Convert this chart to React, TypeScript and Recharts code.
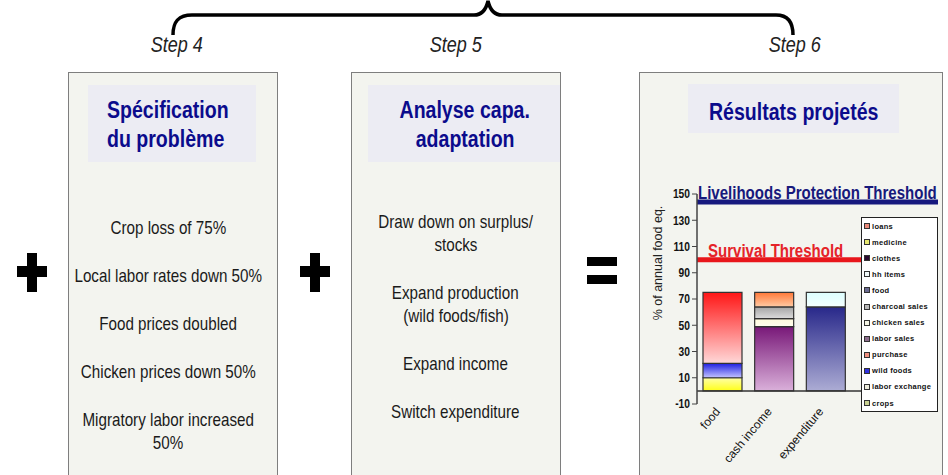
import { BarChart, Bar, XAxis, YAxis, ReferenceLine, Legend, Label } from "recharts";

const SANS = '"Liberation Sans", Arial, sans-serif';

// bar chart values (% of annual food needs)
const categories = ["food", "cash income", "expenditure"];
const crops = [10, 0, 0];
const laborExchange = [0, 0, 0];
const wildFoods = [11, 0, 0];
const purchase = [54, 0, 0];
const laborSales = [0, 49, 0];
const chickenSales = [0, 6, 0];
const charcoalSales = [0, 9, 0];
const foodSpend = [0, 0, 64];
const hhItems = [0, 0, 11];
const clothes = [0, 0, 0];
const medicine = [0, 0, 0];
const loans = [0, 11, 0];

const yTicks = [-10, 10, 30, 50, 70, 90, 110, 130, 150];
const livelihoodsThreshold = 144;
const survivalThreshold = 100;

// text of the diagram
const steps = ["Step 4", "Step 5", "Step 6"];
const problemTitle = ["Spécification", "du problème"];
const adaptationTitle = ["Analyse capa.", "adaptation"];
const resultsTitle = "Résultats projetés";
const problemItems = [
  ["Crop loss of 75%"],
  ["Local labor rates down 50%"],
  ["Food prices doubled"],
  ["Chicken prices down 50%"],
  ["Migratory labor increased", "50%"],
];
const adaptationItems = [
  ["Draw down on surplus/", "stocks"],
  ["Expand production", "(wild foods/fish)"],
  ["Expand income"],
  ["Switch expenditure"],
];

// stack order: bottom first (legend shows it reversed)
const series = [
  { key: "crops", name: "crops", values: crops, top: "#FFFFA8", bottom: "#FFFF18", swatch: "#C8D090" },
  { key: "laborExchange", name: "labor exchange", values: laborExchange, top: "#F0F0E0", bottom: "#FFFFFF", swatch: "#ECECDC" },
  { key: "wildFoods", name: "wild foods", values: wildFoods, top: "#1E1EE0", bottom: "#C4C4FF", swatch: "#3030E0" },
  { key: "purchase", name: "purchase", values: purchase, top: "#FF1616", bottom: "#FFD8D8", swatch: "#F09080" },
  { key: "laborSales", name: "labor sales", values: laborSales, top: "#781878", bottom: "#DAB0DA", swatch: "#8C6C8C" },
  { key: "chickenSales", name: "chicken sales", values: chickenSales, top: "#FFFBDC", bottom: "#FFFDEE", swatch: "#F4F4E4" },
  { key: "charcoalSales", name: "charcoal sales", values: charcoalSales, top: "#A4A4A4", bottom: "#DCDCDC", swatch: "#B8B8B8" },
  { key: "foodSpend", name: "food", values: foodSpend, top: "#28288A", bottom: "#ACACD4", swatch: "#6A6A90" },
  { key: "hhItems", name: "hh items", values: hhItems, top: "#DDFFFF", bottom: "#F4FFFF", swatch: "#F0F8F8" },
  { key: "clothes", name: "clothes", values: clothes, top: "#300038", bottom: "#601870", swatch: "#2A0A30" },
  { key: "medicine", name: "medicine", values: medicine, top: "#FFFF70", bottom: "#FFFFC0", swatch: "#E8E870" },
  { key: "loans", name: "loans", values: loans, top: "#FF7838", bottom: "#FFCBA4", swatch: "#E88878" },
];

const data = categories.map((cat, i) => {
  const row: any = { cat };
  series.forEach((s) => (row[s.key] = s.values[i]));
  return row;
});

// the source picture is squeezed horizontally, so text is narrowed
const Squeeze = ({ children, s, origin = "center" }: { children: React.ReactNode; s: number; origin?: string }) => (
  <span style={{ display: "inline-block", transform: `scaleX(${s})`, transformOrigin: origin, whiteSpace: "nowrap" }}>{children}</span>
);

const CategoryTick = ({ x, y, payload }: any) => {
  const tx = x - 2;
  const ty = y + 6;
  return (
    <text x={tx} y={ty} transform={`rotate(-50 ${tx} ${ty})`} textAnchor="end" fontSize={12} fontFamily={SANS} fill="#111">
      {payload.value}
    </text>
  );
};

const ValueTick = ({ x, y, payload }: any) => (
  <text transform={`translate(${x} ${y}) scale(0.82 1)`} textAnchor="end" dy="0.355em" fontSize={12.5} fontWeight="bold" fontFamily={SANS} fill="#111">
    {payload.value}
  </text>
);

const thresholdLabel = (text: string, color: string, dx: number) => (props: any) => {
  const vb = props.viewBox;
  return (
    <text transform={`translate(${vb.x + dx} ${vb.y - 3}) scale(0.835 1)`} fontSize={18} fontWeight="bold" fontFamily={SANS} fill={color}>
      {text}
    </text>
  );
};

const YTitle = (props: any) => {
  const vb = props.viewBox;
  const cx = vb.x + 18;
  const cy = vb.y + 69;
  return (
    <text x={cx} y={cy} transform={`rotate(-90 ${cx} ${cy})`} textAnchor="middle" dominantBaseline="central" fontSize={12.5} fontFamily={SANS} fill="#222">
      % of annual food eq.
    </text>
  );
};

const ChartLegend = () => (
  <div style={{ width: 77, background: "#fff", border: "1px solid #222", boxSizing: "border-box" }}>
    {[...series].reverse().map((s) => (
      <div key={s.key} style={{ height: 16.1, display: "flex", alignItems: "center", paddingLeft: 2 }}>
        <span style={{ width: 4, height: 4, border: "1px solid #333", background: s.swatch, marginRight: 2, flex: "none" }} />
        <span style={{ fontFamily: SANS, fontWeight: "bold", fontSize: 7.5, letterSpacing: 0.3, color: "#111", whiteSpace: "nowrap" }}>{s.name}</span>
      </div>
    ))}
  </div>
);

function ResultsChart() {
  return (
    <BarChart width={300} height={290} data={data} margin={{ top: 14, right: 2, bottom: 2, left: 0 }}>
      <defs>
        {series.map((s) => (
          <linearGradient key={s.key} id={`g-${s.key}`} x1="0" y1="0" x2="0" y2="1">
            <stop offset="0%" stopColor={s.top} />
            <stop offset="100%" stopColor={s.bottom} />
          </linearGradient>
        ))}
      </defs>
      <XAxis dataKey="cat" axisLine={false} tickLine={false} tickSize={0} height={64} interval={0} padding={{ left: 0, right: 86 }} tick={<CategoryTick />} />
      <YAxis
        width={57}
        domain={[-10, 150]}
        ticks={yTicks}
        interval={0}
        tickSize={5}
        axisLine={{ stroke: "#444", strokeWidth: 1.5 }}
        tickLine={{ stroke: "#444" }}
        tick={<ValueTick />}
      >
        <Label content={<YTitle />} />
      </YAxis>
      <ReferenceLine y={livelihoodsThreshold} stroke="#16187E" strokeWidth={5} label={thresholdLabel("Livelihoods Protection Threshold", "#17197C", 1)} />
      <ReferenceLine y={survivalThreshold} stroke="#E8161B" strokeWidth={5} label={thresholdLabel("Survival Threshold", "#E52329", 11)} />
      {series.map((s) => (
        <Bar key={s.key} dataKey={s.key} name={s.name} stackId="a" barSize={39} fill={`url(#g-${s.key})`} stroke="#333" strokeWidth={1.2} isAnimationActive={false} />
      ))}
      <ReferenceLine y={0} stroke="#333" strokeWidth={1.5} />
      <Legend layout="vertical" align="center" verticalAlign="middle" wrapperStyle={{ left: 221, top: 37, width: 77 }} content={() => <ChartLegend />} />
    </BarChart>
  );
}

const panelStyle = (left: number, width: number): React.CSSProperties => ({
  position: "absolute",
  left,
  top: 72,
  width,
  height: 420,
  background: "#F3F4EF",
  border: "1.5px solid #7E7E7E",
  boxSizing: "border-box",
});

const headerBox = (left: number, top: number, width: number, height: number): React.CSSProperties => ({
  position: "absolute",
  left,
  top,
  width,
  height,
  background: "#ECECF3",
});

const titleStyle: React.CSSProperties = {
  fontFamily: SANS,
  fontWeight: "bold",
  fontSize: 23,
  lineHeight: "29px",
  color: "#0B0B8C",
};

// text column centred on cx; wide enough that unscaled lines never overflow
const ItemList = ({ items, cx, top }: { items: string[][]; cx: number; top: number }) => (
  <div style={{ position: "absolute", left: cx - 150, top, width: 300, display: "flex", flexDirection: "column", gap: 25, textAlign: "center" }}>
    {items.map((lines, i) => (
      <div key={i} style={{ fontFamily: SANS, fontSize: 19, lineHeight: "23px", color: "#1A1A1A" }}>
        {lines.map((l, j) => (
          <div key={j}>
            <Squeeze s={0.8}>{l}</Squeeze>
          </div>
        ))}
      </div>
    ))}
  </div>
);

const Block = ({ left, top, width, height }: { left: number; top: number; width: number; height: number }) => (
  <div style={{ position: "absolute", left, top, width, height, background: "#000" }} />
);

export default function App() {
  const stepX = [176.5, 456, 795];
  return (
    <div style={{ position: "absolute", left: 0, top: 0, width: 948, height: 475, overflow: "hidden", background: "#fff" }}>
      <svg width={948} height={60} style={{ position: "absolute", left: 0, top: 0 }}>
        <path
          d="M173,35 C173,22 178,15 192,15 L474,15 C482,15 486,10 488,1 C490,10 494,15 502,15 L776,15 C788,15 793,22 793,35"
          fill="none"
          stroke="#000"
          strokeWidth={3.5}
        />
      </svg>
      {steps.map((s, i) => (
        <div
          key={s}
          style={{ position: "absolute", left: stepX[i] - 50, top: 33, width: 100, textAlign: "center", fontFamily: SANS, fontStyle: "italic", fontSize: 22, lineHeight: "24px", color: "#222" }}
        >
          <Squeeze s={0.82}>{s}</Squeeze>
        </div>
      ))}

      <div style={panelStyle(68, 210)} />
      <div style={headerBox(88, 85, 168, 77)} />
      <div style={{ ...titleStyle, position: "absolute", left: 107, top: 95.5 }}>
        {problemTitle.map((t) => (
          <div key={t}>
            <Squeeze s={0.85} origin="left">{t}</Squeeze>
          </div>
        ))}
      </div>
      <ItemList items={problemItems} cx={168.5} top={215.5} />

      <div style={panelStyle(351, 210)} />
      <div style={headerBox(368, 85, 192, 77)} />
      <div style={{ ...titleStyle, position: "absolute", left: 368, top: 96, width: 194, textAlign: "center" }}>
        {adaptationTitle.map((t) => (
          <div key={t}>
            <Squeeze s={0.85}>{t}</Squeeze>
          </div>
        ))}
      </div>
      <ItemList items={adaptationItems} cx={455.5} top={209.5} />

      <div style={panelStyle(639, 304)} />
      <div style={headerBox(688, 84, 211, 49)} />
      <div style={{ ...titleStyle, position: "absolute", left: 688, top: 97.5, width: 211, textAlign: "center" }}>
        <Squeeze s={0.85}>{resultsTitle}</Squeeze>
      </div>

      <Block left={17} top={266} width={30} height={11} />
      <Block left={27} top={253} width={9.5} height={39} />
      <Block left={300} top={266} width={30} height={11} />
      <Block left={310} top={253} width={9.5} height={39} />
      <Block left={587} top={257} width={30} height={9} />
      <Block left={587} top={275} width={30} height={9} />

      <div style={{ position: "absolute", left: 640, top: 180 }}>
        <ResultsChart />
      </div>
    </div>
  );
}
